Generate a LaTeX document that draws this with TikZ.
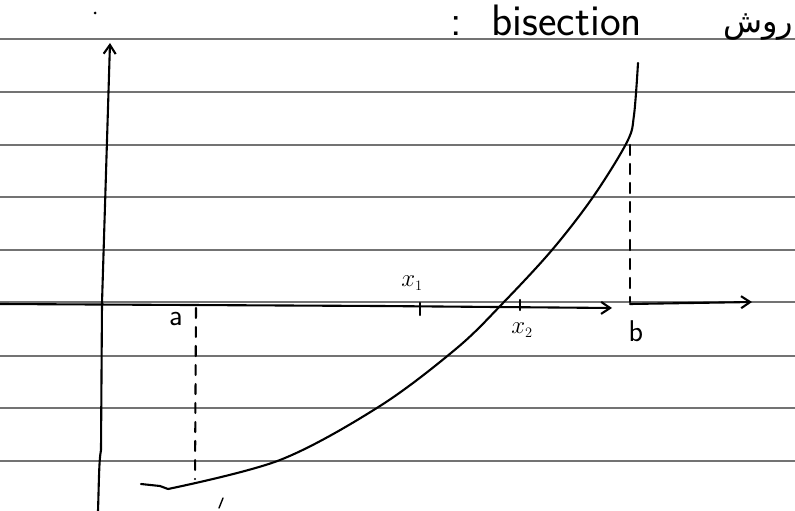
\documentclass[tikz,border=0pt]{standalone}
\usepackage{fontspec}
\newfontfamily\arabicfont[Script=Arabic]{DejaVu Sans}
\TeXXeTstate=1
\usetikzlibrary{arrows.meta}
\begin{document}
\begin{tikzpicture}[x=1pt,y=-1pt,
  rule/.style={draw=black!55,line width=1.2pt},
  ink/.style={draw=black,line width=2.1pt,line cap=round,line join=round},
  dashink/.style={ink,dash pattern=on 10pt off 9pt},
  barb/.style={-{Straight Barb[length=9pt,width=12pt]}},
  lbl/.style={font=\sffamily\fontsize{30}{32}\selectfont,inner sep=0pt}]
\useasboundingbox[fill=white] (0,0) rectangle (795,511);
% ruled lines
\foreach \yy in {39,92,145,197,250,302,356,408,461}
  \draw[rule] (0,\yy) -- (795,\yy);
% axes
\coordinate (xs) at (0,304);
\coordinate (xm) at (612,308);
\draw[ink,barb] (xs) -- (380,306) -- (xm);
\coordinate (xr) at (630,304);
\coordinate (xe) at (752,302);
\draw[ink,barb] (xr) -- (xe);
\coordinate (ys) at (98,511);
\coordinate (ye) at (110,43);
\draw[ink,barb] (ys) .. controls (99,480) and (99,460) .. (101,450) -- (102,303) -- (ye);
% dashed verticals
\coordinate (a1) at (196,308);
\coordinate (a2) at (195,479);
\draw[dashink] (a1) -- (a2);
\coordinate (b1) at (630,145);
\coordinate (b2) at (630,302);
\draw[dashink] (b1) -- (b2);
% ticks
\coordinate (t1) at (420,303);
\draw[ink] (t1) -- ++(0,12);
\coordinate (t2) at (520,300);
\draw[ink] (t2) -- ++(0,10);
% curve
\draw[ink] (141,484) -- (160,486) -- (168,489);
\draw[ink] plot[smooth,tension=0.55] coordinates {(168,489) (280,460) (380,406) (457,348) (503,303) (552,250) (593,197) (627,142) (634,115) (638,63)};
% stray stroke and dot
\draw[ink,line width=1.4pt] (219,508) -- (223,498);
\fill (95,13) circle (1.5pt);
% labels
\node[lbl] (la) at (176,319) {a};
\node[lbl] (lx1) at (412,283) {$x_{\scriptscriptstyle 1}$};
\node[lbl] (lx2) at (522,330) {$x_{\scriptscriptstyle 2}$};
\node[lbl] (lb) at (636,331) {b};
\node[lbl,anchor=base west,font=\sffamily\fontsize{44}{46}\selectfont] (title) at (450,36) {:\hspace{30pt}bisection};
\node[inner sep=0pt,anchor=base] (ravesh) at (758,33) {\arabicfont\fontsize{32}{34}\selectfont\beginR روش\endR};
\end{tikzpicture}
\end{document}
